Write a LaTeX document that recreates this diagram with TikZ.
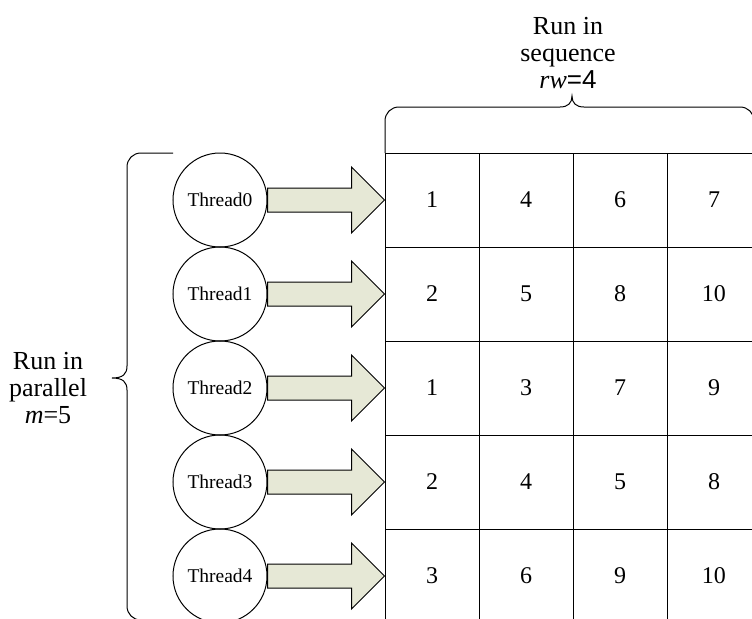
\documentclass[tikz,border=0pt]{standalone}
\usepackage{fontspec}
\setmainfont{Liberation Serif}
\setsansfont{Liberation Sans}
\usepackage{tikz}
\usetikzlibrary{calc}
\definecolor{arrowfill}{RGB}{230,232,214}

\begin{document}
\begin{tikzpicture}[x=0.5pt,y=-0.5pt,line width=0.5pt,
        thread/.style={draw,circle,minimum size=47pt,inner sep=0pt,font=\fontsize{9.75}{11}\selectfont},
        cell/.style={draw,rectangle,minimum size=47pt,inner sep=0pt,font=\fontsize{12}{14}\selectfont},
        blockarrow/.style={draw,fill=arrowfill,line join=miter},
        brlabel/.style={align=center,font=\fontsize{13}{13.5}\selectfont}]
        \useasboundingbox (0,0) rectangle (752,618);
        \clip (0,0) rectangle (752,618);
        % Table
        \foreach \vals [count=\r from 0] in {{1,4,6,7},{2,5,8,10},{1,3,7,9},{2,4,5,8},{3,6,9,10}}
            \foreach \v [count=\k from 0] in \vals
                \node[cell] (c\r\k) at ({432+94*\k},{200+94*\r}) {\v};
        % Threads
        \foreach \r in {0,...,4} {
            \node[thread] (t\r) at (220,{200+94*\r}) {Thread\r};
            \draw[blockarrow] ($(t\r.east)+(0,6pt)$) -- ($(c\r0.west)+(-16.5pt,6pt)$)
                -- ($(c\r0.west)+(-16.5pt,16.5pt)$) -- (c\r0.west)
                -- ($(c\r0.west)+(-16.5pt,-16.5pt)$) -- ($(c\r0.west)+(-16.5pt,-6pt)$)
                -- ($(t\r.east)+(0,-6pt)$) -- cycle;
        }
        % Braces
        \draw (385,153) -- (385,121) .. controls (385,113) and (391,107) .. (399,107)
            -- (560,107) .. controls (568,107) and (572,103) .. (572,96)
            .. controls (572,103) and (576,107) .. (584,107)
            -- (740,107) .. controls (748,107) and (754,113) .. (754,121) -- (754,153);
        \draw (173,153) -- (141,153) .. controls (133,153) and (127,159) .. (127,167)
            -- (127,366) .. controls (127,374) and (123,378) .. (112,378)
            .. controls (123,378) and (127,382) .. (127,390)
            -- (127,606) .. controls (127,614) and (133,620) .. (141,620);
        % Labels
        \node[brlabel] (seq) at (568,53) {Run in\\sequence\\\textit{rw}\textsf{=4}};
        \node[brlabel] (par) at (48,388) {Run in\\parallel\\\textit{m}=5};
\end{tikzpicture}
\end{document}
